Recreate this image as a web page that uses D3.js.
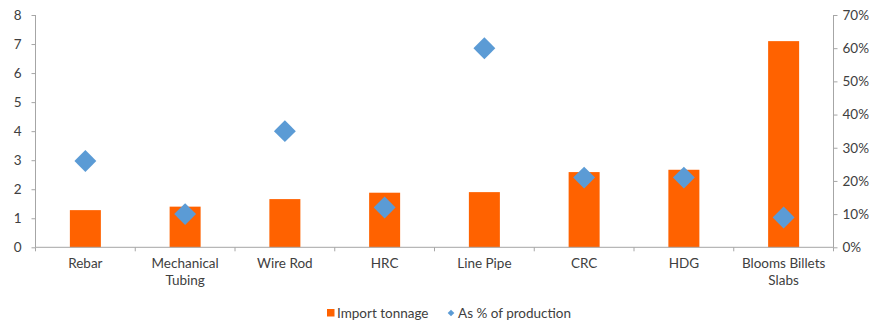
<!DOCTYPE html>
<html>
<head>
<meta charset="utf-8">
<script src="https://cdn.jsdelivr.net/npm/d3@7"></script>
<style>
  html, body { margin: 0; padding: 0; background: #fff; }
  svg { display: block; font-family: Lato, "Noto Sans", sans-serif; }
</style>
</head>
<body>
<svg id="chart" width="878" height="331"></svg>
<script>
// Steel import categories
const categories = [
  ["Rebar"],
  ["Mechanical", "Tubing"],
  ["Wire Rod"],
  ["HRC"],
  ["Line Pipe"],
  ["CRC"],
  ["HDG"],
  ["Blooms Billets", "Slabs"]
];
// Import tonnage (left axis)
const importTonnage = [1.28, 1.40, 1.66, 1.88, 1.90, 2.59, 2.67, 7.1];
// Imports as % of production (right axis)
const pctOfProduction = [26, 10, 35, 12, 60, 21, 21, 9];
const leftTicks = [0, 1, 2, 3, 4, 5, 6, 7, 8];
const rightTicks = [0, 10, 20, 30, 40, 50, 60, 70];
const seriesNames = ["Import tonnage", "As % of production"];

const orange = "#FF6200";
const blue = "#5B9BD5";
const axisColor = "#A6A6A6";
const textColor = "#404040";
const fontFamily = "Lato, \"Noto Sans\", sans-serif";
const fontSize = 13.5;

const svg = d3.select("#chart");
const m = { left: 35.5, right: 833.5, top: 15, bottom: 247.3 };

const x = d3.scaleBand().domain(d3.range(categories.length)).range([m.left, m.right]);
const yL = d3.scaleLinear().domain([0, 8]).range([m.bottom, m.top]);
const yR = d3.scaleLinear().domain([0, 70]).range([m.bottom, m.top]);

// Bars
const barW = 31;
svg.append("g").selectAll("rect").data(importTonnage).join("rect")
  .attr("x", (d, i) => x(i) + x.bandwidth() / 2 - barW / 2)
  .attr("y", d => yL(d))
  .attr("width", barW)
  .attr("height", d => yL(0) - yL(d))
  .attr("fill", orange);

// Diamonds
const diamond = d3.symbol().type(d3.symbolSquare).size(240);
svg.append("g").selectAll("path").data(pctOfProduction).join("path")
  .attr("d", diamond)
  .attr("transform", (d, i) => `translate(${x(i) + x.bandwidth() / 2},${yR(d)}) rotate(45)`)
  .attr("fill", blue);

// Left axis
const gL = svg.append("g").attr("transform", `translate(${m.left},0)`)
  .call(d3.axisLeft(yL).tickValues(leftTicks).tickFormat(d3.format("d")).tickSize(4).tickPadding(10));
// Right axis
const gR = svg.append("g").attr("transform", `translate(${m.right},0)`)
  .call(d3.axisRight(yR).tickValues(rightTicks).tickFormat(d => d + "%").tickSize(4).tickPadding(5));
// Bottom axis with ticks at category boundaries
const gB = svg.append("g").attr("transform", `translate(0,${m.bottom})`);
gB.append("line").attr("x1", m.left).attr("x2", m.right).attr("stroke", axisColor);
gB.selectAll("line.tk").data(d3.range(categories.length + 1)).join("line")
  .attr("class", "tk")
  .attr("x1", i => m.left + i * x.step()).attr("x2", i => m.left + i * x.step())
  .attr("y1", 0).attr("y2", 4).attr("stroke", axisColor);
gB.selectAll("text").data(categories).join("text")
  .attr("text-anchor", "middle")
  .attr("font-size", fontSize)
  .attr("fill", textColor)
  .each(function(d, i) {
    const t = d3.select(this);
    d.forEach((line, j) => {
      t.append("tspan").attr("x", x(i) + x.bandwidth() / 2).attr("y", 21 + j * 17).text(line);
    });
  });

[gL, gR].forEach(g => {
  g.select(".domain").attr("stroke", axisColor);
  g.selectAll(".tick line").attr("stroke", axisColor);
  g.selectAll(".tick text").attr("fill", textColor).attr("font-size", fontSize)
    .attr("font-family", fontFamily);
});
gL.select(".domain").attr("d", `M0,${m.top}V${m.bottom}`);
gR.select(".domain").attr("d", `M0,${m.top}V${m.bottom}`);

// Legend
const lg = svg.append("g").attr("transform", "translate(0,313)");
lg.append("rect").attr("x", 327).attr("y", -4).attr("width", 7.5).attr("height", 7.5).attr("fill", orange);
lg.append("text").attr("x", 337).attr("y", 4.5).attr("font-size", fontSize).attr("fill", textColor).text(seriesNames[0]);
lg.append("path").attr("d", d3.symbol().type(d3.symbolSquare).size(22)).attr("transform", "translate(451,0) rotate(45)").attr("fill", blue);
lg.append("text").attr("x", 458).attr("y", 4.5).attr("font-size", fontSize).attr("fill", textColor).text(seriesNames[1]);
</script>
</body>
</html>
